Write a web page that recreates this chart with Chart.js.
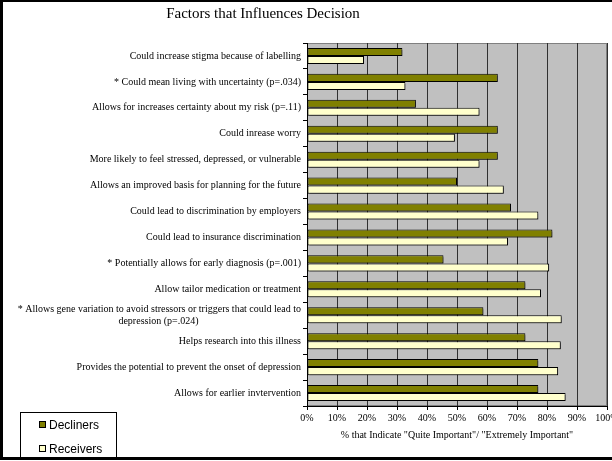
<!DOCTYPE html>
<html>
<head>
<meta charset="utf-8">
<script src="https://cdn.jsdelivr.net/npm/chart.js@4/dist/chart.umd.min.js"></script>
<style>
  body { margin: 0; background: #fff; }
  #wrap { position: relative; width: 612px; height: 461px; background: #fff; overflow: hidden; }
  #c { position: absolute; left: 0; top: 0; }
  #frame { position: absolute; left: 0; top: 0; width: 616px; height: 460px; box-sizing: border-box;
           border-left: 3px solid #000; border-top: 2px solid #000; border-bottom: 3px solid #000; border-right: 0; }
  #legend { position: absolute; left: 20px; top: 412px; width: 97px; height: 46px; box-sizing: border-box;
            border: 1px solid #000; border-bottom: none; font-family: "Liberation Sans", Arial, sans-serif; font-size: 12px; color: #000; }
  .item { position: absolute; left: 18px; line-height: 14px; }
  .sw { display: inline-block; width: 5px; height: 5px; border: 1px solid #000; margin-right: 3px; vertical-align: 1px; }
</style>
</head>
<body>
<div id="wrap">
  <canvas id="c" width="612" height="461"></canvas>
  <div id="frame"></div>
  <div id="legend">
    <div class="item" style="top:5px"><span class="sw" style="background:#808000"></span>Decliners</div>
    <div class="item" style="top:29px"><span class="sw" style="background:#FFFFCC"></span>Receivers</div>
  </div>
</div>
<script>
// podaci procitani sa slike
const categories = [
    "Could increase stigma because of labelling",
    "* Could mean living with uncertainty (p=.034)",
    "Allows for increases certainty about my risk (p=.11)",
    "Could inrease worry",
    "More likely to feel stressed, depressed, or vulnerable",
    "Allows an improved basis for planning for the future",
    "Could lead to discrimination by employers",
    "Could lead to insurance discrimination",
    "* Potentially allows for early diagnosis (p=.001)",
    "Allow tailor medication or treatment",
    ["* Allows gene variation to avoid stressors or triggers that could lead to", "depression (p=.024)"],
    "Helps research into this illness",
    "Provides the potential to prevent the onset of depression",
    "Allows for earlier invtervention"
];
const decliners = [31.8, 63.6, 36.3, 63.6, 63.6, 50.0, 68.0, 81.8, 45.5, 72.8, 58.8, 72.8, 77.1, 77.1];
const receivers = [19.0, 32.8, 57.5, 49.3, 57.5, 65.6, 77.1, 67.0, 80.7, 78.0, 84.9, 84.6, 83.7, 86.2];
const xTicks = [0, 10, 20, 30, 40, 50, 60, 70, 80, 90, 100];

const titleText = "Factors that Influences Decision";
const xTitle = '% that Indicate "Quite Important"/ "Extremely Important"';

const labelFont = '10px "Liberation Serif", serif';

// drugi red dugacke oznake centriramo ispod prvog (dodajemo razmake na kraj)
const measureCtx = document.createElement('canvas').getContext('2d');
measureCtx.font = labelFont;
function centerLines(label) {
    if (!Array.isArray(label)) return label;
    let w0 = measureCtx.measureText(label[0]).width;
    let sp = measureCtx.measureText('\u00A0').width;
    return label.map(line => {
        let w = measureCtx.measureText(line).width;
        let n = Math.round((w0 - w) / 2 / sp);
        return line + '\u00A0'.repeat(Math.max(0, n));
    });
}

// pozadina oblasti grafikona, senke i naslov
const plotBg = {
    id: 'plotBg',
    beforeDraw(chart) {
        const a = chart.chartArea;
        const ctx = chart.ctx;
        ctx.save();
        ctx.fillStyle = '#C0C0C0';
        ctx.fillRect(a.left, a.top, a.right - a.left, a.bottom - a.top);
        ctx.strokeStyle = '#808080';
        ctx.lineWidth = 1;
        ctx.strokeRect(a.left + 0.5, a.top + 0.5, a.right - a.left - 1, a.bottom - a.top - 1);
        ctx.restore();
    },
    beforeDatasetsDraw(chart) {
        const ctx = chart.ctx;
        ctx.save();
        ctx.shadowColor = 'rgba(0,0,0,0.35)';
        ctx.shadowOffsetX = 2;
        ctx.shadowOffsetY = 2;
        ctx.shadowBlur = 0;
    },
    afterDatasetsDraw(chart) {
        chart.ctx.restore();
    },
    afterDraw(chart) {
        const ctx = chart.ctx;
        ctx.save();
        ctx.fillStyle = '#000';
        ctx.font = '15px "Liberation Serif", serif';
        ctx.textAlign = 'center';
        ctx.textBaseline = 'middle';
        ctx.fillText(titleText, 263, 14);
        ctx.restore();
    }
};

let ctx = document.getElementById('c').getContext('2d');
let chart = new Chart(ctx, {
    type: 'bar',
    data: {
        labels: categories,
        datasets: [{
            label: 'Decliners',
            data: decliners,
            backgroundColor: '#808000',
            borderColor: '#000',
            borderWidth: 1,
            borderSkipped: false
        }, {
            label: 'Receivers',
            data: receivers,
            backgroundColor: '#FFFFCC',
            borderColor: '#000',
            borderWidth: 1,
            borderSkipped: false
        }]
    },
    plugins: [plotBg],
    options: {
        indexAxis: 'y',
        responsive: false,
        animation: false,
        layout: { padding: { left: 7, top: 43, right: 5, bottom: 15 } },
        datasets: { bar: { categoryPercentage: 0.62, barPercentage: 1.0 } },
        plugins: {
            legend: { display: false },
            tooltip: { enabled: false }
        },
        scales: {
            x: {
                min: 0,
                max: 100,
                afterBuildTicks(scale) {
                    scale.ticks = xTicks.map(v => ({ value: v }));
                },
                afterFit(scale) {
                    scale.height = 40;
                    scale.paddingRight = 0;
                    scale.paddingLeft = 0;
                },
                ticks: {
                    callback: v => v + '%',
                    color: '#000',
                    font: { family: '"Liberation Serif", serif', size: 10 },
                    padding: 2,
                    maxRotation: 0,
                    autoSkip: false
                },
                grid: { color: '#303030', lineWidth: 1, tickLength: 4, tickColor: '#000' },
                border: { color: '#000', width: 1 },
                title: {
                    display: true,
                    text: xTitle,
                    color: '#000',
                    font: { family: '"Liberation Serif", serif', size: 10 },
                    padding: { top: 2, bottom: 5 }
                }
            },
            y: {
                afterFit(scale) {
                    scale.width = 300;
                },
                ticks: {
                    callback: function (v, i) { return centerLines(categories[i]); },
                    color: '#000',
                    font: { family: '"Liberation Serif", serif', size: 10 },
                    padding: 2,
                    autoSkip: false
                },
                grid: { drawOnChartArea: false, tickLength: 4, color: '#000' },
                border: { color: '#000', width: 1 }
            }
        }
    }
});
</script>
</body>
</html>
